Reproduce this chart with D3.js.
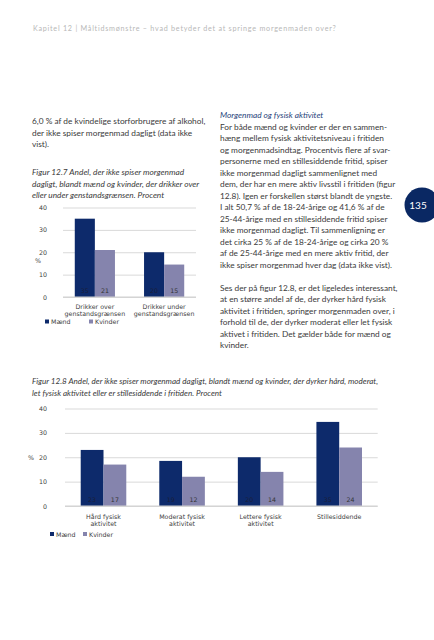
<!DOCTYPE html>
<html><head><meta charset="utf-8">
<script src="https://cdn.jsdelivr.net/npm/d3@7"></script>
<style>
html,body{margin:0;padding:0;background:#fff;}
svg{display:block;}
</style></head>
<body>
<svg id="page" width="434" height="640"></svg>
<script>
// ---- data ----
const series = ["Mænd", "Kvinder"];
const fig1Categories = [["Drikker over", "genstandsgrænsen"], ["Drikker under", "genstandsgrænsen"]];
const fig1Maend = [35, 20];
const fig1Kvinder = [21, 14.5];
const fig2Categories = [["Hård fysisk", "aktivitet"], ["Moderat fysisk", "aktivitet"], ["Lettere fysisk", "aktivitet"], ["Stillesiddende"]];
const fig2Maend = [23, 18.5, 20, 34.5];
const fig2Kvinder = [17, 12, 14, 24];
const yTicks = [0, 10, 20, 30, 40];

const header = "Kapitel 12 | Måltidsmønstre – hvad betyder det at springe morgenmaden over?";
const leftText = ["6,0 % af de kvindelige storforbrugere af alkohol,", "der ikke spiser morgenmad dagligt (data ikke", "vist)."];
const fig1Caption = ["Figur 12.7 Andel, der ikke spiser morgenmad", "dagligt, blandt mænd og kvinder, der drikker over", "eller under genstandsgrænsen. Procent"];
const rightTitle = "Morgenmad og fysisk aktivitet";
const rightPara1 = ["For både mænd og kvinder er der en sammen-", "hæng mellem fysisk aktivitetsniveau i fritiden", "og morgenmadsindtag. Procentvis flere af svar-", "personerne med en stillesiddende fritid, spiser", "ikke morgenmad dagligt sammenlignet med", "dem, der har en mere aktiv livsstil i fritiden (figur", "12.8). Igen er forskellen størst blandt de yngste.", "I alt 50,7 % af de 18-24-årige og 41,6 % af de", "25-44-årige med en stillesiddende fritid spiser", "ikke morgenmad dagligt. Til sammenligning er", "det cirka 25 % af de 18-24-årige og cirka 20 %", "af de 25-44-årige med en mere aktiv fritid, der", "ikke spiser morgenmad hver dag (data ikke vist)."];
const rightPara2 = ["Ses der på figur 12.8, er det ligeledes interessant,", "at en større andel af de, der dyrker hård fysisk", "aktivitet i fritiden, springer morgenmaden over, i", "forhold til de, der dyrker moderat eller let fysisk", "aktivet i fritiden. Det gælder både for mænd og", "kvinder."];
const fig2Caption = ["Figur 12.8 Andel, der ikke spiser morgenmad dagligt, blandt mænd og kvinder, der dyrker hård, moderat,", "let fysisk aktivitet eller er stillesiddende i fritiden. Procent"];
const pageNumber = "135";

// ---- styles ----
const NAVY = "#0d2a6b";
const LAV = "#8584ad";
const TXT = "#3a3a3a";
const bodyFont = "Lato, 'Open Sans', sans-serif";
const chartFont = "'DejaVu Sans', Verdana, sans-serif";
const LH = 11.5;

const svg = d3.select("#page");

svg.append("text").attr("x", 33).attr("y", 31)
  .attr("font-family", bodyFont).attr("font-size", 7.2).attr("letter-spacing", 0.75)
  .attr("fill", "#b8b8b8").text(header);

function block(lines, x, y0, lh, opts = {}) {
  const g = svg.append("g");
  g.selectAll("text").data(lines).join("text")
    .attr("x", x).attr("y", (d, i) => y0 + i * lh)
    .attr("font-family", bodyFont).attr("font-size", opts.size || 8.3)
    .attr("font-style", opts.italic ? "italic" : null)
    .attr("fill", opts.fill || TXT)
    .text(d => d);
  return g;
}

block(leftText, 32, 124, LH);
block(fig1Caption, 32, 175, LH, {italic: true});
block([rightTitle], 220, 118, LH, {italic: true, fill: "#1f3f7a"});
block(rightPara1, 220, 118 + LH, LH);
block(rightPara2, 220, 118 + 15 * LH, LH);
block(fig2Caption, 32, 384, LH, {italic: true, size: 8.1});

// page number circle
svg.append("circle").attr("cx", 422).attr("cy", 205).attr("r", 17.5).attr("fill", "#0a2863");
svg.append("text").attr("x", 418).attr("y", 208.5).attr("text-anchor", "middle")
  .attr("font-family", bodyFont).attr("font-size", 10).attr("fill", "#fff").text(pageNumber);

function barChart(cfg) {
  const g = svg.append("g");
  const y = d3.scaleLinear().domain([0, 40]).range([cfg.y0, cfg.y40]);
  const x0 = d3.scaleBand().domain(d3.range(cfg.cats.length)).range([cfg.xl, cfg.xr])
    .paddingInner(cfg.pin).paddingOuter(cfg.pout);
  const x1 = d3.scaleBand().domain(series).range([0, x0.bandwidth()]);
  const color = d3.scaleOrdinal().domain(series).range([NAVY, LAV]);

  const axis = d3.axisLeft(y).tickValues(yTicks).tickSize(-(cfg.xr - cfg.xl)).tickPadding(cfg.xl - cfg.labelX);
  const ag = g.append("g").attr("transform", `translate(${cfg.xl},0)`).call(axis);
  ag.select(".domain").remove();
  ag.selectAll(".tick line").attr("stroke", "#d9d9d9").attr("stroke-width", 1);
  ag.selectAll(".tick text").attr("font-family", chartFont).attr("font-size", 6.3).attr("fill", "#404040");

  g.append("text").attr("x", cfg.pctX).attr("y", cfg.pctY).attr("text-anchor", "middle")
    .attr("font-family", chartFont).attr("font-size", 6.3).attr("fill", "#404040").text("%");

  const rows = cfg.cats.map((c, i) => ({i, vals: [{s: series[0], v: cfg.m[i]}, {s: series[1], v: cfg.k[i]}]}));
  const grp = g.selectAll("g.grp").data(rows).join("g").attr("class", "grp")
    .attr("transform", d => `translate(${x0(d.i)},0)`);
  grp.selectAll("rect").data(d => d.vals).join("rect")
    .attr("x", d => x1(d.s)).attr("width", x1.bandwidth())
    .attr("y", d => y(d.v)).attr("height", d => y(0) - y(d.v))
    .attr("fill", d => color(d.s));
  grp.selectAll("text.val").data(d => d.vals).join("text").attr("class", "val")
    .attr("x", d => x1(d.s) + x1.bandwidth() / 2).attr("y", y(0) - 4.5)
    .attr("text-anchor", "middle").attr("font-family", chartFont).attr("font-size", 6.3)
    .attr("fill", d => d.s === series[0] ? "#1b1f3a" : "#333")
    .text(d => Math.round(d.v));

  g.append("line").attr("x1", cfg.xl).attr("x2", cfg.xr).attr("y1", y(0)).attr("y2", y(0))
    .attr("stroke", "#d0d0d0");

  rows.forEach(r => {
    const t = g.append("text").attr("text-anchor", "middle").attr("font-family", chartFont)
      .attr("font-size", 6.3).attr("fill", "#404040");
    cfg.cats[r.i].forEach((line, j) => {
      t.append("tspan").attr("x", x0(r.i) + x0.bandwidth() / 2).attr("y", cfg.catY + j * 7).text(line);
    });
  });

  series.forEach((s, i) => {
    const lx = cfg.legX[i];
    g.append("rect").attr("x", lx).attr("y", cfg.legY - 3).attr("width", 4).attr("height", 4).attr("fill", color(s));
    g.append("text").attr("x", lx + 6).attr("y", cfg.legY + 1.8).attr("font-family", chartFont)
      .attr("font-size", 6.3).attr("fill", "#404040").text(s);
  });
}

barChart({cats: fig1Categories, m: fig1Maend, k: fig1Kvinder,
  y0: 297, y40: 207.5, xl: 63, xr: 196, pin: 0.42, pout: 0.17,
  labelX: 47, pctX: 38, pctY: 263, catY: 308.5, legY: 322.5, legX: [45, 89]});

barChart({cats: fig2Categories, m: fig2Maend, k: fig2Kvinder,
  y0: 506, y40: 408.5, xl: 65, xr: 377.7, pin: 0.42, pout: 0.2,
  labelX: 47, pctX: 31, pctY: 459.5, catY: 518.5, legY: 535, legX: [50, 83]});
</script>
</body></html>
